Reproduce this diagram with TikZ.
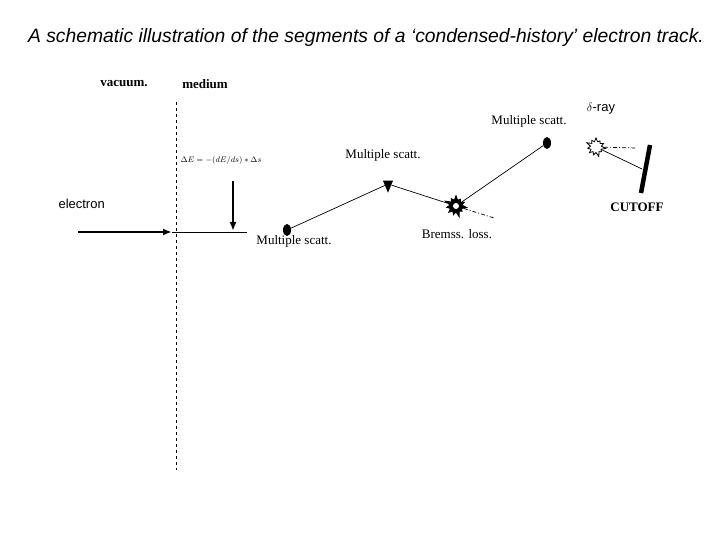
\documentclass[tikz,border=0pt]{standalone}
\usepackage{fontspec}
\setmainfont{Liberation Serif}
\setsansfont{Liberation Sans}
\usetikzlibrary{shapes.geometric,shapes.symbols,arrows.meta}
\begin{document}
\begin{tikzpicture}[x=1pt,y=-1pt,
  lbl/.style={font=\fontsize{13}{14}\selectfont},
  blbl/.style={font=\bfseries\fontsize{13}{14}\selectfont},
  slbl/.style={font=\sffamily\fontsize{13}{14}\selectfont},
  track/.style={line width=0.7pt},
  ddot/.style={dash pattern=on 4pt off 2pt on 1pt off 2pt, line width=0.7pt},
  blob/.style={ellipse,fill=black,minimum width=8pt,minimum height=12pt,inner sep=0pt},
  burst/.style={starburst,starburst points=11,starburst point height=6pt,draw=black,minimum size=24pt,inner sep=0pt,line width=0.8pt}]
\useasboundingbox (0,0) rectangle (720,540);
\node[font=\sffamily\itshape\fontsize{19.3}{21}\selectfont] (title) at (366,38) {A schematic illustration of the segments of a ‘condensed-history’ electron track.};
\node[blbl] (vac) at (124,84) {vacuum.};
\node[blbl] (med) at (205,84) {medium};
\coordinate (d1) at (176,102); \coordinate (d2) at (176,470);
\draw[dashed,line width=0.7pt] (d1) -- (d2);
\node[slbl,anchor=west] (el) at (55,204) {electron};
\coordinate (a0) at (78,232); \coordinate (a1) at (172,232); \coordinate (a2) at (247,232);
\draw[line width=1.8pt,-{Latex[length=9pt,width=7pt]}] (a0) -- (a1);
\draw[track] (a1) -- (a2);
\node[font=\bfseries\fontsize{8.5}{9}\selectfont] (form) at (221,161) {$\Delta E = -(dE/ds)\ast\Delta s$};
\coordinate (v0) at (233,181); \coordinate (v1) at (233,231);
\draw[line width=1.8pt,-{Latex[length=9pt,width=7pt]}] (v0) -- (v1);
\node[blob] (m1) at (287,230) {};
\node[isosceles triangle,shape border rotate=-90,fill=black,minimum size=10pt,inner sep=0pt] (m2) at (388,184) {};
\node[burst,fill=black] (b) at (456,206) {};
\node[circle,fill=white,minimum size=6pt,inner sep=0pt] (bc) at (456,206) {};
\node[blob] (m3) at (547,143) {};
\node[burst,fill=white,starburst point height=5pt,minimum size=21pt] (dr) at (596,147) {};
\coordinate (c1) at (650,145); \coordinate (c2) at (641,193);
\draw[line width=4.5pt] (c1) -- (c2);
\coordinate (dre) at (636,148); \coordinate (be) at (494,218); \coordinate (cm) at (642,169);
\draw[track] (m1) -- (m2) -- (b) -- (m3);
\draw[ddot] (b) -- (be);
\draw[ddot] (dr) -- (dre);
\draw[track] (dr) -- (cm);
\node[lbl] (l1) at (294,241) {Multiple scatt.};
\node[lbl] (l2) at (383,155) {Multiple scatt.};
\node[lbl] (l3) at (529,121) {Multiple scatt.};
\node[lbl] (l4) at (457,234) {Bremss. loss.};
\node[slbl] (l5) at (601,109) {$\delta$-ray};
\node[blbl] (l6) at (637,207) {CUTOFF};
\end{tikzpicture}
\end{document}
